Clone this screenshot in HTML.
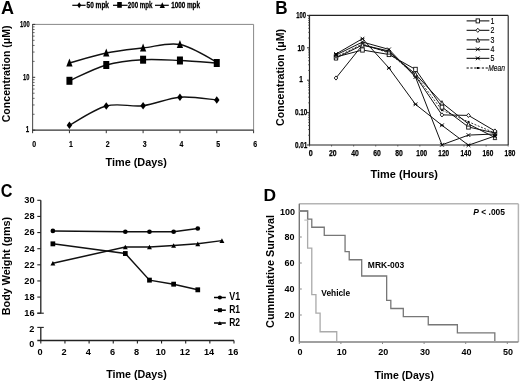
<!DOCTYPE html>
<html><head><meta charset="utf-8"><style>
html,body{margin:0;padding:0;background:#fff;}
body{width:520px;height:382px;overflow:hidden;}
svg{display:block;font-family:"Liberation Sans", sans-serif;will-change:transform;}
</style></head><body>
<svg width="520" height="382" viewBox="0 0 520 382">
<rect width="520" height="382" fill="#fff"/>
<text x="1.0" y="13.8" font-size="18" font-weight="bold" fill="#000">A</text>
<line x1="32.6" y1="24.4" x2="253.6" y2="24.4" stroke="#888" stroke-width="1"/>
<line x1="253.6" y1="24.4" x2="253.6" y2="130.2" stroke="#888" stroke-width="1"/>
<line x1="32.6" y1="23.9" x2="32.6" y2="130.2" stroke="#555" stroke-width="1.1"/>
<line x1="32.1" y1="130.2" x2="253.6" y2="130.2" stroke="#333" stroke-width="1.3"/>
<line x1="32.6" y1="114.27551322937539" x2="34.6" y2="114.27551322937539" stroke="#444" stroke-width="0.8"/>
<line x1="32.6" y1="104.96028562532985" x2="34.6" y2="104.96028562532985" stroke="#444" stroke-width="0.8"/>
<line x1="32.6" y1="98.35102645875078" x2="34.6" y2="98.35102645875078" stroke="#444" stroke-width="0.8"/>
<line x1="32.6" y1="93.2244867706246" x2="34.6" y2="93.2244867706246" stroke="#444" stroke-width="0.8"/>
<line x1="32.6" y1="89.03579885470525" x2="34.6" y2="89.03579885470525" stroke="#444" stroke-width="0.8"/>
<line x1="32.6" y1="85.49431368324582" x2="34.6" y2="85.49431368324582" stroke="#444" stroke-width="0.8"/>
<line x1="32.6" y1="82.42653968812618" x2="34.6" y2="82.42653968812618" stroke="#444" stroke-width="0.8"/>
<line x1="32.6" y1="79.7205712506597" x2="34.6" y2="79.7205712506597" stroke="#444" stroke-width="0.8"/>
<line x1="32.6" y1="61.375513229375386" x2="34.6" y2="61.375513229375386" stroke="#444" stroke-width="0.8"/>
<line x1="32.6" y1="52.06028562532987" x2="34.6" y2="52.06028562532987" stroke="#444" stroke-width="0.8"/>
<line x1="32.6" y1="45.45102645875079" x2="34.6" y2="45.45102645875079" stroke="#444" stroke-width="0.8"/>
<line x1="32.6" y1="40.32448677062462" x2="34.6" y2="40.32448677062462" stroke="#444" stroke-width="0.8"/>
<line x1="32.6" y1="36.13579885470526" x2="34.6" y2="36.13579885470526" stroke="#444" stroke-width="0.8"/>
<line x1="32.6" y1="32.594313683245815" x2="34.6" y2="32.594313683245815" stroke="#444" stroke-width="0.8"/>
<line x1="32.6" y1="29.526539688126192" x2="34.6" y2="29.526539688126192" stroke="#444" stroke-width="0.8"/>
<line x1="32.6" y1="26.820571250659725" x2="34.6" y2="26.820571250659725" stroke="#444" stroke-width="0.8"/>
<line x1="32.6" y1="130.2" x2="35.2" y2="130.2" stroke="#333" stroke-width="1"/>
<line x1="32.6" y1="77.3" x2="35.2" y2="77.3" stroke="#333" stroke-width="1"/>
<line x1="32.6" y1="24.400000000000006" x2="35.2" y2="24.400000000000006" stroke="#333" stroke-width="1"/>
<text x="29.6" y="26.9" font-size="9.8" font-weight="bold" text-anchor="end" textLength="9.6" lengthAdjust="spacingAndGlyphs" fill="#000" stroke="#000" stroke-width="0.25">100</text>
<text x="29.4" y="79.8" font-size="9.8" font-weight="bold" text-anchor="end" textLength="6.4" lengthAdjust="spacingAndGlyphs" fill="#000" stroke="#000" stroke-width="0.25">10</text>
<text x="29.2" y="132.0" font-size="9.8" font-weight="bold" text-anchor="end" textLength="3.4" lengthAdjust="spacingAndGlyphs" fill="#000" stroke="#000" stroke-width="0.25">1</text>
<line x1="32.6" y1="130.2" x2="32.6" y2="133.2" stroke="#333" stroke-width="1"/>
<text x="34.1" y="147.0" font-size="9" font-weight="bold" text-anchor="middle" textLength="3.9" lengthAdjust="spacingAndGlyphs" fill="#000" stroke="#000" stroke-width="0.15">0</text>
<line x1="69.43333333333334" y1="130.2" x2="69.43333333333334" y2="133.2" stroke="#333" stroke-width="1"/>
<text x="70.93" y="147.0" font-size="9" font-weight="bold" text-anchor="middle" textLength="3.9" lengthAdjust="spacingAndGlyphs" fill="#000" stroke="#000" stroke-width="0.15">1</text>
<line x1="106.26666666666668" y1="130.2" x2="106.26666666666668" y2="133.2" stroke="#333" stroke-width="1"/>
<text x="107.77" y="147.0" font-size="9" font-weight="bold" text-anchor="middle" textLength="3.9" lengthAdjust="spacingAndGlyphs" fill="#000" stroke="#000" stroke-width="0.15">2</text>
<line x1="143.1" y1="130.2" x2="143.1" y2="133.2" stroke="#333" stroke-width="1"/>
<text x="144.6" y="147.0" font-size="9" font-weight="bold" text-anchor="middle" textLength="3.9" lengthAdjust="spacingAndGlyphs" fill="#000" stroke="#000" stroke-width="0.15">3</text>
<line x1="179.93333333333334" y1="130.2" x2="179.93333333333334" y2="133.2" stroke="#333" stroke-width="1"/>
<text x="181.43" y="147.0" font-size="9" font-weight="bold" text-anchor="middle" textLength="3.9" lengthAdjust="spacingAndGlyphs" fill="#000" stroke="#000" stroke-width="0.15">4</text>
<line x1="216.76666666666668" y1="130.2" x2="216.76666666666668" y2="133.2" stroke="#333" stroke-width="1"/>
<text x="218.27" y="147.0" font-size="9" font-weight="bold" text-anchor="middle" textLength="3.9" lengthAdjust="spacingAndGlyphs" fill="#000" stroke="#000" stroke-width="0.15">5</text>
<line x1="253.6" y1="130.2" x2="253.6" y2="133.2" stroke="#333" stroke-width="1"/>
<text x="255.1" y="147.0" font-size="9" font-weight="bold" text-anchor="middle" textLength="3.9" lengthAdjust="spacingAndGlyphs" fill="#000" stroke="#000" stroke-width="0.15">6</text>
<text x="105.5" y="165.6" font-size="11" font-weight="bold" textLength="61.5" lengthAdjust="spacingAndGlyphs" fill="#000">Time (Days)</text>
<text transform="translate(10.0,122.3) rotate(-90)" font-size="10.6" font-weight="bold" textLength="96.9" lengthAdjust="spacingAndGlyphs">Concentration (μM)</text>
<path d="M69.43333333333334,63.0 C75.57,61.33 93.99,55.50 106.27,53.00 C118.54,50.50 130.82,49.42 143.10,48.00 C155.38,46.58 167.66,42.17 179.93,44.50 C192.21,46.83 210.63,59.08 216.77,62.00" fill="none" stroke="#111" stroke-width="1.4"/>
<path d="M69.43333333333334,80.8 C75.57,78.17 93.99,68.52 106.27,65.00 C118.54,61.48 130.82,60.45 143.10,59.70 C155.38,58.95 167.66,59.95 179.93,60.50 C192.21,61.05 210.63,62.58 216.77,63.00" fill="none" stroke="#111" stroke-width="1.4"/>
<path d="M69.43333333333334,125.3 C75.57,122.08 93.99,109.27 106.27,106.00 C118.54,102.73 130.82,107.17 143.10,105.70 C155.38,104.23 167.66,98.15 179.93,97.20 C192.21,96.25 210.63,99.53 216.77,100.00" fill="none" stroke="#111" stroke-width="1.4"/>
<path d="M69.43333333333334,121.55 L72.18333333333334,125.3 L69.43333333333334,129.05 L66.68333333333334,125.3 Z" fill="#000"/>
<path d="M106.26666666666668,102.25 L109.01666666666668,106.0 L106.26666666666668,109.75 L103.51666666666668,106.0 Z" fill="#000"/>
<path d="M143.1,101.95 L145.85,105.7 L143.1,109.45 L140.35,105.7 Z" fill="#000"/>
<path d="M179.93333333333334,93.45 L182.68333333333334,97.2 L179.93333333333334,100.95 L177.18333333333334,97.2 Z" fill="#000"/>
<path d="M216.76666666666668,96.25 L219.51666666666668,100.0 L216.76666666666668,103.75 L214.01666666666668,100.0 Z" fill="#000"/>
<rect x="66.43333333333334" y="76.8" width="6" height="8" fill="#000"/>
<rect x="103.26666666666668" y="61.0" width="6" height="8" fill="#000"/>
<rect x="140.1" y="55.7" width="6" height="8" fill="#000"/>
<rect x="176.93333333333334" y="56.5" width="6" height="8" fill="#000"/>
<rect x="213.76666666666668" y="59.0" width="6" height="8" fill="#000"/>
<path d="M69.43333333333334,58.6 L72.58333333333334,66.4 L66.28333333333333,66.4 Z" fill="#000"/>
<path d="M106.26666666666668,48.6 L109.41666666666669,56.4 L103.11666666666667,56.4 Z" fill="#000"/>
<path d="M143.1,43.6 L146.25,51.4 L139.95,51.4 Z" fill="#000"/>
<path d="M179.93333333333334,40.1 L183.08333333333334,47.9 L176.78333333333333,47.9 Z" fill="#000"/>
<line x1="72.3" y1="5.3" x2="85.6" y2="5.3" stroke="#000" stroke-width="1.2"/>
<path d="M79.2,2.3 L81.2,5.3 L79.2,8.3 L77.2,5.3 Z" fill="#000"/>
<text x="86.5" y="8.1" font-size="8.8" font-weight="bold" textLength="22.5" lengthAdjust="spacingAndGlyphs" fill="#000" stroke="#000" stroke-width="0.3">50 mpk</text>
<line x1="113" y1="5.3" x2="127.6" y2="5.3" stroke="#000" stroke-width="1.2"/>
<rect x="117.2" y="1.9999999999999996" width="4.6" height="5.8" fill="#000"/>
<text x="127.8" y="8.1" font-size="8.8" font-weight="bold" textLength="24.7" lengthAdjust="spacingAndGlyphs" fill="#000" stroke="#000" stroke-width="0.3">200 mpk</text>
<line x1="155" y1="5.3" x2="168.8" y2="5.3" stroke="#000" stroke-width="1.2"/>
<path d="M162.3,2.1999999999999997 L164.9,8.0 L159.70000000000002,8.0 Z" fill="#000"/>
<text x="171.2" y="8.1" font-size="8.8" font-weight="bold" textLength="28.8" lengthAdjust="spacingAndGlyphs" fill="#000" stroke="#000" stroke-width="0.3">1000 mpk</text>
<text transform="translate(275.2,13.8) scale(0.95,1)" font-size="18" font-weight="bold">B</text>
<line x1="309.5" y1="15.4" x2="508.2" y2="15.4" stroke="#222" stroke-width="1.1"/>
<line x1="508.2" y1="15.4" x2="508.2" y2="145.0" stroke="#222" stroke-width="1.1"/>
<line x1="309.5" y1="14.9" x2="309.5" y2="145.5" stroke="#222" stroke-width="1.2"/>
<line x1="309.0" y1="145.0" x2="508.2" y2="145.0" stroke="#222" stroke-width="1.2"/>
<line x1="308.0" y1="135.24662814048702" x2="309.5" y2="135.24662814048702" stroke="#444" stroke-width="0.7"/>
<line x1="308.0" y1="129.54127134708293" x2="309.5" y2="129.54127134708293" stroke="#444" stroke-width="0.7"/>
<line x1="308.0" y1="125.49325628097402" x2="309.5" y2="125.49325628097402" stroke="#444" stroke-width="0.7"/>
<line x1="308.0" y1="122.35337185951299" x2="309.5" y2="122.35337185951299" stroke="#444" stroke-width="0.7"/>
<line x1="308.0" y1="119.78789948756994" x2="309.5" y2="119.78789948756994" stroke="#444" stroke-width="0.7"/>
<line x1="308.0" y1="117.61882350353808" x2="309.5" y2="117.61882350353808" stroke="#444" stroke-width="0.7"/>
<line x1="308.0" y1="115.73988442146103" x2="309.5" y2="115.73988442146103" stroke="#444" stroke-width="0.7"/>
<line x1="308.0" y1="114.08254269416588" x2="309.5" y2="114.08254269416588" stroke="#444" stroke-width="0.7"/>
<line x1="308.0" y1="102.84662814048701" x2="309.5" y2="102.84662814048701" stroke="#444" stroke-width="0.7"/>
<line x1="308.0" y1="97.14127134708295" x2="309.5" y2="97.14127134708295" stroke="#444" stroke-width="0.7"/>
<line x1="308.0" y1="93.09325628097402" x2="309.5" y2="93.09325628097402" stroke="#444" stroke-width="0.7"/>
<line x1="308.0" y1="89.953371859513" x2="309.5" y2="89.953371859513" stroke="#444" stroke-width="0.7"/>
<line x1="308.0" y1="87.38789948756994" x2="309.5" y2="87.38789948756994" stroke="#444" stroke-width="0.7"/>
<line x1="308.0" y1="85.21882350353808" x2="309.5" y2="85.21882350353808" stroke="#444" stroke-width="0.7"/>
<line x1="308.0" y1="83.33988442146102" x2="309.5" y2="83.33988442146102" stroke="#444" stroke-width="0.7"/>
<line x1="308.0" y1="81.68254269416587" x2="309.5" y2="81.68254269416587" stroke="#444" stroke-width="0.7"/>
<line x1="308.0" y1="70.44662814048701" x2="309.5" y2="70.44662814048701" stroke="#444" stroke-width="0.7"/>
<line x1="308.0" y1="64.74127134708293" x2="309.5" y2="64.74127134708293" stroke="#444" stroke-width="0.7"/>
<line x1="308.0" y1="60.69325628097401" x2="309.5" y2="60.69325628097401" stroke="#444" stroke-width="0.7"/>
<line x1="308.0" y1="57.55337185951299" x2="309.5" y2="57.55337185951299" stroke="#444" stroke-width="0.7"/>
<line x1="308.0" y1="54.98789948756995" x2="309.5" y2="54.98789948756995" stroke="#444" stroke-width="0.7"/>
<line x1="308.0" y1="52.818823503538084" x2="309.5" y2="52.818823503538084" stroke="#444" stroke-width="0.7"/>
<line x1="308.0" y1="50.93988442146103" x2="309.5" y2="50.93988442146103" stroke="#444" stroke-width="0.7"/>
<line x1="308.0" y1="49.28254269416588" x2="309.5" y2="49.28254269416588" stroke="#444" stroke-width="0.7"/>
<line x1="308.0" y1="38.046628140487016" x2="309.5" y2="38.046628140487016" stroke="#444" stroke-width="0.7"/>
<line x1="308.0" y1="32.34127134708294" x2="309.5" y2="32.34127134708294" stroke="#444" stroke-width="0.7"/>
<line x1="308.0" y1="28.29325628097402" x2="309.5" y2="28.29325628097402" stroke="#444" stroke-width="0.7"/>
<line x1="308.0" y1="25.153371859513" x2="309.5" y2="25.153371859513" stroke="#444" stroke-width="0.7"/>
<line x1="308.0" y1="22.587899487569942" x2="309.5" y2="22.587899487569942" stroke="#444" stroke-width="0.7"/>
<line x1="308.0" y1="20.41882350353808" x2="309.5" y2="20.41882350353808" stroke="#444" stroke-width="0.7"/>
<line x1="308.0" y1="18.539884421461025" x2="309.5" y2="18.539884421461025" stroke="#444" stroke-width="0.7"/>
<line x1="308.0" y1="16.882542694165892" x2="309.5" y2="16.882542694165892" stroke="#444" stroke-width="0.7"/>
<line x1="307.0" y1="145.0" x2="309.5" y2="145.0" stroke="#333" stroke-width="1"/>
<line x1="307.0" y1="112.6" x2="309.5" y2="112.6" stroke="#333" stroke-width="1"/>
<line x1="307.0" y1="80.2" x2="309.5" y2="80.2" stroke="#333" stroke-width="1"/>
<line x1="307.0" y1="47.80000000000001" x2="309.5" y2="47.80000000000001" stroke="#333" stroke-width="1"/>
<line x1="307.0" y1="15.400000000000006" x2="309.5" y2="15.400000000000006" stroke="#333" stroke-width="1"/>
<text x="301.1" y="147.8" font-size="8.8" font-weight="bold" text-anchor="middle" textLength="12.4" lengthAdjust="spacingAndGlyphs" fill="#000" stroke="#000" stroke-width="0.25">0.01</text>
<text x="301.1" y="115.4" font-size="8.8" font-weight="bold" text-anchor="middle" textLength="12.4" lengthAdjust="spacingAndGlyphs" fill="#000" stroke="#000" stroke-width="0.25">0.10</text>
<text x="301.1" y="82.0" font-size="8.8" font-weight="bold" text-anchor="middle" textLength="3.6" lengthAdjust="spacingAndGlyphs" fill="#000" stroke="#000" stroke-width="0.25">1</text>
<text x="301.1" y="50.6" font-size="8.8" font-weight="bold" text-anchor="middle" textLength="7.4" lengthAdjust="spacingAndGlyphs" fill="#000" stroke="#000" stroke-width="0.25">10</text>
<text x="301.1" y="18.2" font-size="8.8" font-weight="bold" text-anchor="middle" textLength="9.8" lengthAdjust="spacingAndGlyphs" fill="#000" stroke="#000" stroke-width="0.25">100</text>
<line x1="309.5" y1="145.0" x2="309.5" y2="146.5" stroke="#444" stroke-width="0.8"/>
<text x="310.8" y="156.4" font-size="8.8" font-weight="bold" text-anchor="middle" textLength="4.0" lengthAdjust="spacingAndGlyphs" fill="#000" stroke="#000" stroke-width="0.25">0</text>
<line x1="331.5777777777778" y1="145.0" x2="331.5777777777778" y2="146.5" stroke="#444" stroke-width="0.8"/>
<text x="332.88" y="156.4" font-size="8.8" font-weight="bold" text-anchor="middle" textLength="7.6" lengthAdjust="spacingAndGlyphs" fill="#000" stroke="#000" stroke-width="0.25">20</text>
<line x1="353.65555555555557" y1="145.0" x2="353.65555555555557" y2="146.5" stroke="#444" stroke-width="0.8"/>
<text x="354.96" y="156.4" font-size="8.8" font-weight="bold" text-anchor="middle" textLength="7.6" lengthAdjust="spacingAndGlyphs" fill="#000" stroke="#000" stroke-width="0.25">40</text>
<line x1="375.73333333333335" y1="145.0" x2="375.73333333333335" y2="146.5" stroke="#444" stroke-width="0.8"/>
<text x="377.03" y="156.4" font-size="8.8" font-weight="bold" text-anchor="middle" textLength="7.6" lengthAdjust="spacingAndGlyphs" fill="#000" stroke="#000" stroke-width="0.25">60</text>
<line x1="397.81111111111113" y1="145.0" x2="397.81111111111113" y2="146.5" stroke="#444" stroke-width="0.8"/>
<text x="399.11" y="156.4" font-size="8.8" font-weight="bold" text-anchor="middle" textLength="7.6" lengthAdjust="spacingAndGlyphs" fill="#000" stroke="#000" stroke-width="0.25">80</text>
<line x1="419.8888888888889" y1="145.0" x2="419.8888888888889" y2="146.5" stroke="#444" stroke-width="0.8"/>
<text x="421.69" y="156.4" font-size="8.8" font-weight="bold" text-anchor="middle" textLength="10.8" lengthAdjust="spacingAndGlyphs" fill="#000" stroke="#000" stroke-width="0.25">100</text>
<line x1="441.9666666666667" y1="145.0" x2="441.9666666666667" y2="146.5" stroke="#444" stroke-width="0.8"/>
<text x="443.77" y="156.4" font-size="8.8" font-weight="bold" text-anchor="middle" textLength="10.8" lengthAdjust="spacingAndGlyphs" fill="#000" stroke="#000" stroke-width="0.25">120</text>
<line x1="464.0444444444445" y1="145.0" x2="464.0444444444445" y2="146.5" stroke="#444" stroke-width="0.8"/>
<text x="465.84" y="156.4" font-size="8.8" font-weight="bold" text-anchor="middle" textLength="10.8" lengthAdjust="spacingAndGlyphs" fill="#000" stroke="#000" stroke-width="0.25">140</text>
<line x1="486.12222222222226" y1="145.0" x2="486.12222222222226" y2="146.5" stroke="#444" stroke-width="0.8"/>
<text x="487.92" y="156.4" font-size="8.8" font-weight="bold" text-anchor="middle" textLength="10.8" lengthAdjust="spacingAndGlyphs" fill="#000" stroke="#000" stroke-width="0.25">160</text>
<line x1="508.20000000000005" y1="145.0" x2="508.20000000000005" y2="146.5" stroke="#444" stroke-width="0.8"/>
<text x="510.0" y="156.4" font-size="8.8" font-weight="bold" text-anchor="middle" textLength="10.8" lengthAdjust="spacingAndGlyphs" fill="#000" stroke="#000" stroke-width="0.25">180</text>
<text x="370.6" y="177.8" font-size="11" font-weight="bold" textLength="67.3" lengthAdjust="spacingAndGlyphs" fill="#000">Time (Hours)</text>
<text transform="translate(284.1,125.9) rotate(-90)" font-size="10.6" font-weight="bold" textLength="97" lengthAdjust="spacingAndGlyphs">Concentration (μM)</text>
<path d="M335.99,57.00 L362.49,44.00 L388.98,53.00 L415.47,75.00 L441.97,110.20 L468.46,121.80 L494.95,133.00" fill="none" stroke="#222" stroke-width="0.9" stroke-dasharray="2,1.5"/>
<path d="M335.99,57.00 L362.49,50.00 L388.98,54.50 L415.47,69.40 L441.97,107.10 L468.46,127.00 L494.95,133.00" fill="none" stroke="#111" stroke-width="1"/>
<path d="M335.99,78.00 L362.49,45.00 L388.98,51.00 L415.47,76.00 L441.97,114.90 L468.46,115.40 L494.95,131.00" fill="none" stroke="#111" stroke-width="1"/>
<path d="M335.99,58.00 L362.49,45.00 L388.98,52.00 L415.47,74.00 L441.97,102.80 L468.46,124.00 L494.95,137.50" fill="none" stroke="#111" stroke-width="1"/>
<path d="M335.99,55.00 L362.49,42.00 L388.98,49.40 L415.47,77.00 L441.97,144.80 L468.46,135.10 L494.95,134.00" fill="none" stroke="#111" stroke-width="1"/>
<path d="M335.99,54.00 L362.49,38.70 L388.98,68.00 L415.47,104.30 L441.97,125.30 L468.46,145.20 L494.95,136.00" fill="none" stroke="#111" stroke-width="1"/>
<rect x="335.09333333333336" y="56.1" width="1.8" height="1.8" fill="#000"/>
<rect x="361.5866666666667" y="43.1" width="1.8" height="1.8" fill="#000"/>
<rect x="388.08000000000004" y="52.1" width="1.8" height="1.8" fill="#000"/>
<rect x="414.5733333333334" y="74.1" width="1.8" height="1.8" fill="#000"/>
<rect x="441.0666666666667" y="109.3" width="1.8" height="1.8" fill="#000"/>
<rect x="467.56000000000006" y="120.89999999999999" width="1.8" height="1.8" fill="#000"/>
<rect x="494.0533333333334" y="132.1" width="1.8" height="1.8" fill="#000"/>
<rect x="334.1933333333333" y="54.9" width="3.6" height="4.2" fill="#fff" stroke="#111" stroke-width="0.9"/>
<rect x="360.68666666666667" y="47.9" width="3.6" height="4.2" fill="#fff" stroke="#111" stroke-width="0.9"/>
<rect x="387.18" y="52.4" width="3.6" height="4.2" fill="#fff" stroke="#111" stroke-width="0.9"/>
<rect x="413.67333333333335" y="67.30000000000001" width="3.6" height="4.2" fill="#fff" stroke="#111" stroke-width="0.9"/>
<rect x="440.1666666666667" y="105.0" width="3.6" height="4.2" fill="#fff" stroke="#111" stroke-width="0.9"/>
<rect x="466.66" y="124.9" width="3.6" height="4.2" fill="#fff" stroke="#111" stroke-width="0.9"/>
<rect x="493.15333333333336" y="130.9" width="3.6" height="4.2" fill="#fff" stroke="#111" stroke-width="0.9"/>
<path d="M335.99333333333334,75.9 L337.79333333333335,78 L335.99333333333334,80.1 L334.1933333333333,78 Z" fill="#fff" stroke="#111" stroke-width="0.9"/>
<path d="M362.4866666666667,42.9 L364.2866666666667,45 L362.4866666666667,47.1 L360.68666666666667,45 Z" fill="#fff" stroke="#111" stroke-width="0.9"/>
<path d="M388.98,48.9 L390.78000000000003,51 L388.98,53.1 L387.18,51 Z" fill="#fff" stroke="#111" stroke-width="0.9"/>
<path d="M415.47333333333336,73.9 L417.27333333333337,76 L415.47333333333336,78.1 L413.67333333333335,76 Z" fill="#fff" stroke="#111" stroke-width="0.9"/>
<path d="M441.9666666666667,112.80000000000001 L443.7666666666667,114.9 L441.9666666666667,117.0 L440.1666666666667,114.9 Z" fill="#fff" stroke="#111" stroke-width="0.9"/>
<path d="M468.46000000000004,113.30000000000001 L470.26000000000005,115.4 L468.46000000000004,117.5 L466.66,115.4 Z" fill="#fff" stroke="#111" stroke-width="0.9"/>
<path d="M494.9533333333334,128.9 L496.7533333333334,131 L494.9533333333334,133.1 L493.15333333333336,131 Z" fill="#fff" stroke="#111" stroke-width="0.9"/>
<path d="M335.99333333333334,55.9 L337.79333333333335,60.1 L334.1933333333333,60.1 Z" fill="#fff" stroke="#111" stroke-width="0.9"/>
<path d="M362.4866666666667,42.9 L364.2866666666667,47.1 L360.68666666666667,47.1 Z" fill="#fff" stroke="#111" stroke-width="0.9"/>
<path d="M388.98,49.9 L390.78000000000003,54.1 L387.18,54.1 Z" fill="#fff" stroke="#111" stroke-width="0.9"/>
<path d="M415.47333333333336,71.9 L417.27333333333337,76.1 L413.67333333333335,76.1 Z" fill="#fff" stroke="#111" stroke-width="0.9"/>
<path d="M441.9666666666667,100.7 L443.7666666666667,104.89999999999999 L440.1666666666667,104.89999999999999 Z" fill="#fff" stroke="#111" stroke-width="0.9"/>
<path d="M468.46000000000004,121.9 L470.26000000000005,126.1 L466.66,126.1 Z" fill="#fff" stroke="#111" stroke-width="0.9"/>
<path d="M494.9533333333334,135.4 L496.7533333333334,139.6 L493.15333333333336,139.6 Z" fill="#fff" stroke="#111" stroke-width="0.9"/>
<path d="M334.09333333333336,53.1 L337.8933333333333,56.9 M334.09333333333336,56.9 L337.8933333333333,53.1" stroke="#000" stroke-width="0.9" fill="none"/>
<path d="M360.5866666666667,40.1 L364.38666666666666,43.9 M360.5866666666667,43.9 L364.38666666666666,40.1" stroke="#000" stroke-width="0.9" fill="none"/>
<path d="M387.08000000000004,47.5 L390.88,51.3 M387.08000000000004,51.3 L390.88,47.5" stroke="#000" stroke-width="0.9" fill="none"/>
<path d="M413.5733333333334,75.1 L417.37333333333333,78.9 M413.5733333333334,78.9 L417.37333333333333,75.1" stroke="#000" stroke-width="0.9" fill="none"/>
<path d="M440.0666666666667,142.9 L443.8666666666667,146.70000000000002 M440.0666666666667,146.70000000000002 L443.8666666666667,142.9" stroke="#000" stroke-width="0.9" fill="none"/>
<path d="M466.56000000000006,133.2 L470.36,137.0 M466.56000000000006,137.0 L470.36,133.2" stroke="#000" stroke-width="0.9" fill="none"/>
<path d="M493.0533333333334,132.1 L496.85333333333335,135.9 M493.0533333333334,135.9 L496.85333333333335,132.1" stroke="#000" stroke-width="0.9" fill="none"/>
<path d="M334.09333333333336,52.1 L337.8933333333333,55.9 M334.09333333333336,55.9 L337.8933333333333,52.1 M334.09333333333336,54 L337.8933333333333,54" stroke="#000" stroke-width="0.9" fill="none"/>
<path d="M360.5866666666667,36.800000000000004 L364.38666666666666,40.6 M360.5866666666667,40.6 L364.38666666666666,36.800000000000004 M360.5866666666667,38.7 L364.38666666666666,38.7" stroke="#000" stroke-width="0.9" fill="none"/>
<path d="M387.08000000000004,66.1 L390.88,69.9 M387.08000000000004,69.9 L390.88,66.1 M387.08000000000004,68 L390.88,68" stroke="#000" stroke-width="0.9" fill="none"/>
<path d="M413.5733333333334,102.39999999999999 L417.37333333333333,106.2 M413.5733333333334,106.2 L417.37333333333333,102.39999999999999 M413.5733333333334,104.3 L417.37333333333333,104.3" stroke="#000" stroke-width="0.9" fill="none"/>
<path d="M440.0666666666667,123.39999999999999 L443.8666666666667,127.2 M440.0666666666667,127.2 L443.8666666666667,123.39999999999999 M440.0666666666667,125.3 L443.8666666666667,125.3" stroke="#000" stroke-width="0.9" fill="none"/>
<path d="M466.56000000000006,143.29999999999998 L470.36,147.1 M466.56000000000006,147.1 L470.36,143.29999999999998 M466.56000000000006,145.2 L470.36,145.2" stroke="#000" stroke-width="0.9" fill="none"/>
<path d="M493.0533333333334,134.1 L496.85333333333335,137.9 M493.0533333333334,137.9 L496.85333333333335,134.1 M493.0533333333334,136 L496.85333333333335,136" stroke="#000" stroke-width="0.9" fill="none"/>
<line x1="466.6" y1="20.9" x2="489.4" y2="20.9" stroke="#000" stroke-width="1"/>
<text x="490.4" y="23.6" font-size="8.6" font-weight="normal" textLength="3.9" lengthAdjust="spacingAndGlyphs" fill="#000" stroke="#000" stroke-width="0.15">1</text>
<line x1="466.6" y1="30.3" x2="489.4" y2="30.3" stroke="#000" stroke-width="1"/>
<text x="490.4" y="33.0" font-size="8.6" font-weight="normal" textLength="3.9" lengthAdjust="spacingAndGlyphs" fill="#000" stroke="#000" stroke-width="0.15">2</text>
<line x1="466.6" y1="39.9" x2="489.4" y2="39.9" stroke="#000" stroke-width="1"/>
<text x="490.4" y="42.6" font-size="8.6" font-weight="normal" textLength="3.9" lengthAdjust="spacingAndGlyphs" fill="#000" stroke="#000" stroke-width="0.15">3</text>
<line x1="466.6" y1="49.3" x2="489.4" y2="49.3" stroke="#000" stroke-width="1"/>
<text x="490.4" y="52.0" font-size="8.6" font-weight="normal" textLength="3.9" lengthAdjust="spacingAndGlyphs" fill="#000" stroke="#000" stroke-width="0.15">4</text>
<line x1="466.6" y1="58.3" x2="489.4" y2="58.3" stroke="#000" stroke-width="1"/>
<text x="490.4" y="61.0" font-size="8.6" font-weight="normal" textLength="3.9" lengthAdjust="spacingAndGlyphs" fill="#000" stroke="#000" stroke-width="0.15">5</text>
<rect x="476.1" y="18.9" width="3.4" height="4.0" fill="#fff" stroke="#111" stroke-width="0.9"/>
<path d="M477.8,28.2 L479.6,30.3 L477.8,32.4 L476.0,30.3 Z" fill="#fff" stroke="#111" stroke-width="0.9"/>
<path d="M477.8,37.8 L479.6,42.0 L476.0,42.0 Z" fill="#fff" stroke="#111" stroke-width="0.9"/>
<path d="M475.90000000000003,47.4 L479.7,51.199999999999996 M475.90000000000003,51.199999999999996 L479.7,47.4" stroke="#000" stroke-width="0.9" fill="none"/>
<path d="M475.90000000000003,56.4 L479.7,60.199999999999996 M475.90000000000003,60.199999999999996 L479.7,56.4 M475.90000000000003,58.3 L479.7,58.3" stroke="#000" stroke-width="0.9" fill="none"/>
<line x1="466.6" y1="68.0" x2="488.4" y2="68.0" stroke="#000" stroke-width="1.1" stroke-dasharray="2.2,1.6"/>
<rect x="476.8" y="67.0" width="2" height="2" fill="#000"/>
<text x="488.2" y="70.6" font-size="8.6" font-weight="normal" textLength="16.7" lengthAdjust="spacingAndGlyphs" font-style="italic" fill="#000" stroke="#000" stroke-width="0.15">Mean</text>
<text transform="translate(0.7,197.0) scale(0.89,1)" font-size="18.2" font-weight="bold">C</text>
<line x1="40.8" y1="200.3" x2="40.8" y2="313.2" stroke="#222" stroke-width="1.3"/>
<line x1="40.8" y1="327.4" x2="40.8" y2="341.1" stroke="#222" stroke-width="1.3"/>
<line x1="37.3" y1="340.5" x2="234.0" y2="340.5" stroke="#222" stroke-width="1.3"/>
<line x1="37.3" y1="313.2" x2="40.8" y2="313.2" stroke="#222" stroke-width="1.1"/>
<text x="34.6" y="316.1" font-size="9.2" font-weight="bold" text-anchor="end" fill="#000">16</text>
<line x1="37.3" y1="297.07142857142856" x2="40.8" y2="297.07142857142856" stroke="#222" stroke-width="1.1"/>
<text x="34.6" y="299.97" font-size="9.2" font-weight="bold" text-anchor="end" fill="#000">18</text>
<line x1="37.3" y1="280.9428571428572" x2="40.8" y2="280.9428571428572" stroke="#222" stroke-width="1.1"/>
<text x="34.6" y="283.84" font-size="9.2" font-weight="bold" text-anchor="end" fill="#000">20</text>
<line x1="37.3" y1="264.8142857142857" x2="40.8" y2="264.8142857142857" stroke="#222" stroke-width="1.1"/>
<text x="34.6" y="267.71" font-size="9.2" font-weight="bold" text-anchor="end" fill="#000">22</text>
<line x1="37.3" y1="248.68571428571428" x2="40.8" y2="248.68571428571428" stroke="#222" stroke-width="1.1"/>
<text x="34.6" y="251.59" font-size="9.2" font-weight="bold" text-anchor="end" fill="#000">24</text>
<line x1="37.3" y1="232.55714285714288" x2="40.8" y2="232.55714285714288" stroke="#222" stroke-width="1.1"/>
<text x="34.6" y="235.46" font-size="9.2" font-weight="bold" text-anchor="end" fill="#000">26</text>
<line x1="37.3" y1="216.42857142857144" x2="40.8" y2="216.42857142857144" stroke="#222" stroke-width="1.1"/>
<text x="34.6" y="219.33" font-size="9.2" font-weight="bold" text-anchor="end" fill="#000">28</text>
<line x1="37.3" y1="200.3" x2="40.8" y2="200.3" stroke="#222" stroke-width="1.1"/>
<text x="34.6" y="203.2" font-size="9.2" font-weight="bold" text-anchor="end" fill="#000">30</text>
<line x1="37.3" y1="313.2" x2="43.8" y2="313.2" stroke="#222" stroke-width="1.1"/>
<line x1="37.3" y1="327.4" x2="43.8" y2="327.4" stroke="#222" stroke-width="1.1"/>
<text x="34.4" y="332.4" font-size="9.2" font-weight="bold" text-anchor="end" fill="#000">2</text>
<text x="34.4" y="346.6" font-size="9.2" font-weight="bold" text-anchor="end" fill="#000">0</text>
<line x1="40.8" y1="340.5" x2="40.8" y2="343.5" stroke="#222" stroke-width="1.1"/>
<text x="40.0" y="355.4" font-size="9.2" font-weight="bold" text-anchor="middle" fill="#000">0</text>
<line x1="64.94999999999999" y1="340.5" x2="64.94999999999999" y2="343.5" stroke="#222" stroke-width="1.1"/>
<text x="64.15" y="355.4" font-size="9.2" font-weight="bold" text-anchor="middle" fill="#000">2</text>
<line x1="89.1" y1="340.5" x2="89.1" y2="343.5" stroke="#222" stroke-width="1.1"/>
<text x="88.3" y="355.4" font-size="9.2" font-weight="bold" text-anchor="middle" fill="#000">4</text>
<line x1="113.24999999999999" y1="340.5" x2="113.24999999999999" y2="343.5" stroke="#222" stroke-width="1.1"/>
<text x="112.45" y="355.4" font-size="9.2" font-weight="bold" text-anchor="middle" fill="#000">6</text>
<line x1="137.39999999999998" y1="340.5" x2="137.39999999999998" y2="343.5" stroke="#222" stroke-width="1.1"/>
<text x="136.6" y="355.4" font-size="9.2" font-weight="bold" text-anchor="middle" fill="#000">8</text>
<line x1="161.55" y1="340.5" x2="161.55" y2="343.5" stroke="#222" stroke-width="1.1"/>
<text x="160.75" y="355.4" font-size="9.2" font-weight="bold" text-anchor="middle" fill="#000">10</text>
<line x1="185.7" y1="340.5" x2="185.7" y2="343.5" stroke="#222" stroke-width="1.1"/>
<text x="184.9" y="355.4" font-size="9.2" font-weight="bold" text-anchor="middle" fill="#000">12</text>
<line x1="209.84999999999997" y1="340.5" x2="209.84999999999997" y2="343.5" stroke="#222" stroke-width="1.1"/>
<text x="209.05" y="355.4" font-size="9.2" font-weight="bold" text-anchor="middle" fill="#000">14</text>
<line x1="234.0" y1="340.5" x2="234.0" y2="343.5" stroke="#222" stroke-width="1.1"/>
<text x="233.2" y="355.4" font-size="9.2" font-weight="bold" text-anchor="middle" fill="#000">16</text>
<text x="106.2" y="377.8" font-size="10.7" font-weight="bold" textLength="60.6" lengthAdjust="spacingAndGlyphs" fill="#000">Time (Days)</text>
<text transform="translate(10.0,315.3) rotate(-90)" font-size="10.8" font-weight="bold" textLength="98.5" lengthAdjust="spacingAndGlyphs">Body Weight (gms)</text>
<path d="M52.88,230.94 L125.32,231.75 L149.47,231.75 L173.62,231.75 L197.77,228.53" fill="none" stroke="#111" stroke-width="1.5"/>
<path d="M52.88,243.85 L125.32,253.52 L149.47,280.14 L173.62,284.17 L197.77,289.81" fill="none" stroke="#111" stroke-width="1.5"/>
<path d="M52.88,263.20 L125.32,247.07 L149.47,247.07 L173.62,245.46 L197.77,243.85 L221.93,240.62" fill="none" stroke="#111" stroke-width="1.5"/>
<circle cx="52.875" cy="230.94428571428574" r="2.35" fill="#000"/>
<circle cx="125.32499999999999" cy="231.75071428571428" r="2.35" fill="#000"/>
<circle cx="149.475" cy="231.75071428571428" r="2.35" fill="#000"/>
<circle cx="173.625" cy="231.75071428571428" r="2.35" fill="#000"/>
<circle cx="197.77499999999998" cy="228.525" r="2.35" fill="#000"/>
<rect x="50.525" y="241.39714285714285" width="4.7" height="4.9" fill="#000"/>
<rect x="122.975" y="251.07428571428574" width="4.7" height="4.9" fill="#000"/>
<rect x="147.125" y="277.68642857142856" width="4.7" height="4.9" fill="#000"/>
<rect x="171.275" y="281.7185714285714" width="4.7" height="4.9" fill="#000"/>
<rect x="195.42499999999998" y="287.36357142857145" width="4.7" height="4.9" fill="#000"/>
<path d="M52.875,260.90142857142854 L55.325,265.50142857142856 L50.425,265.50142857142856 Z" fill="#000"/>
<path d="M125.32499999999999,244.77285714285713 L127.77499999999999,249.37285714285716 L122.87499999999999,249.37285714285716 Z" fill="#000"/>
<path d="M149.475,244.77285714285713 L151.92499999999998,249.37285714285716 L147.025,249.37285714285716 Z" fill="#000"/>
<path d="M173.625,243.16 L176.075,247.76000000000002 L171.175,247.76000000000002 Z" fill="#000"/>
<path d="M197.77499999999998,241.54714285714283 L200.22499999999997,246.14714285714285 L195.325,246.14714285714285 Z" fill="#000"/>
<path d="M221.925,238.32142857142856 L224.375,242.92142857142858 L219.47500000000002,242.92142857142858 Z" fill="#000"/>
<line x1="214" y1="297.5" x2="225.8" y2="297.5" stroke="#000" stroke-width="1.5"/>
<circle cx="219.9" cy="297.5" r="2.1" fill="#000"/>
<text x="229.2" y="300.4" font-size="10.4" font-weight="bold" textLength="10.9" lengthAdjust="spacingAndGlyphs" fill="#000">V1</text>
<line x1="214" y1="310.2" x2="225.8" y2="310.2" stroke="#000" stroke-width="1.5"/>
<rect x="217.9" y="308.2" width="4" height="4" fill="#000"/>
<text x="229.2" y="313.1" font-size="10.4" font-weight="bold" textLength="10.9" lengthAdjust="spacingAndGlyphs" fill="#000">R1</text>
<line x1="214" y1="323.0" x2="225.8" y2="323.0" stroke="#000" stroke-width="1.5"/>
<path d="M219.9,321.0 L221.9,325.0 L217.9,325.0 Z" fill="#000"/>
<text x="229.2" y="325.9" font-size="10.4" font-weight="bold" textLength="10.9" lengthAdjust="spacingAndGlyphs" fill="#000">R2</text>
<text x="263.6" y="200.7" font-size="17.4" font-weight="bold" fill="#000">D</text>
<line x1="299.3" y1="203.8" x2="518.4" y2="203.8" stroke="#b4b4b4" stroke-width="1.5"/>
<line x1="518.4" y1="203.8" x2="518.4" y2="342.0" stroke="#b4b4b4" stroke-width="1.5"/>
<line x1="299.3" y1="203.8" x2="299.3" y2="342.0" stroke="#777" stroke-width="1.4"/>
<line x1="299.3" y1="342.0" x2="518.4" y2="342.0" stroke="#808080" stroke-width="1.4"/>
<text x="294.6" y="342.3" font-size="9.0" font-weight="bold" text-anchor="end" fill="#000">0</text>
<line x1="299.3" y1="315.0" x2="301.8" y2="315.0" stroke="#888" stroke-width="1"/>
<text x="294.6" y="318.1" font-size="9.0" font-weight="bold" text-anchor="end" fill="#000">20</text>
<line x1="299.3" y1="289.0" x2="301.8" y2="289.0" stroke="#888" stroke-width="1"/>
<text x="294.6" y="292.1" font-size="9.0" font-weight="bold" text-anchor="end" fill="#000">40</text>
<line x1="299.3" y1="263.0" x2="301.8" y2="263.0" stroke="#888" stroke-width="1"/>
<text x="294.6" y="266.1" font-size="9.0" font-weight="bold" text-anchor="end" fill="#000">60</text>
<line x1="299.3" y1="237.0" x2="301.8" y2="237.0" stroke="#888" stroke-width="1"/>
<text x="294.6" y="240.1" font-size="9.0" font-weight="bold" text-anchor="end" fill="#000">80</text>
<line x1="299.3" y1="211.0" x2="301.8" y2="211.0" stroke="#888" stroke-width="1"/>
<text x="295.1" y="215.1" font-size="9.0" font-weight="bold" text-anchor="end" fill="#000">100</text>
<line x1="299.3" y1="342.0" x2="299.3" y2="344.0" stroke="#888" stroke-width="1"/>
<text x="300.1" y="354.5" font-size="9.0" font-weight="bold" text-anchor="middle" fill="#000">0</text>
<line x1="340.90000000000003" y1="342.0" x2="340.90000000000003" y2="344.0" stroke="#888" stroke-width="1"/>
<text x="341.7" y="354.5" font-size="9.0" font-weight="bold" text-anchor="middle" fill="#000">10</text>
<line x1="382.5" y1="342.0" x2="382.5" y2="344.0" stroke="#888" stroke-width="1"/>
<text x="383.3" y="354.5" font-size="9.0" font-weight="bold" text-anchor="middle" fill="#000">20</text>
<line x1="424.1" y1="342.0" x2="424.1" y2="344.0" stroke="#888" stroke-width="1"/>
<text x="424.9" y="354.5" font-size="9.0" font-weight="bold" text-anchor="middle" fill="#000">30</text>
<line x1="465.70000000000005" y1="342.0" x2="465.70000000000005" y2="344.0" stroke="#888" stroke-width="1"/>
<text x="466.5" y="354.5" font-size="9.0" font-weight="bold" text-anchor="middle" fill="#000">40</text>
<line x1="507.3" y1="342.0" x2="507.3" y2="344.0" stroke="#888" stroke-width="1"/>
<text x="508.1" y="354.5" font-size="9.0" font-weight="bold" text-anchor="middle" fill="#000">50</text>
<text x="374.4" y="378.6" font-size="10.6" font-weight="bold" textLength="59.6" lengthAdjust="spacingAndGlyphs" fill="#000">Time (Days)</text>
<text transform="translate(273.9,327.9) rotate(-90)" font-size="10.8" font-weight="bold" textLength="113" lengthAdjust="spacingAndGlyphs">Cummulative Survival</text>
<path d="M299.30,211.00 L307.62,211.00 L307.62,248.18 L311.78,248.18 L311.78,294.59 L315.94,294.59 L315.94,313.18 L320.10,313.18 L320.10,331.77 L336.74,331.77 L336.74,341.00" fill="none" stroke="#aaa" stroke-width="1.3"/>
<path d="M299.30,211.00 L307.62,211.00 L307.62,219.12 L311.78,219.12 L311.78,227.25 L324.26,227.25 L324.26,235.38 L345.06,235.38 L345.06,251.62 L349.22,251.62 L349.22,259.75 L361.70,259.75 L361.70,276.00 L386.66,276.00 L386.66,300.38 L390.82,300.38 L390.82,308.50 L403.30,308.50 L403.30,316.62 L428.26,316.62 L428.26,324.75 L457.38,324.75 L457.38,332.88 L494.82,332.88 L494.82,341.00" fill="none" stroke="#777" stroke-width="1.3"/>
<line x1="304.3" y1="220.1" x2="308" y2="220.1" stroke="#bbb" stroke-width="1.1"/>
<text x="321.3" y="295.6" font-size="9.0" font-weight="bold" textLength="28.8" lengthAdjust="spacingAndGlyphs" fill="#000">Vehicle</text>
<text x="367.8" y="267.6" font-size="9.2" font-weight="bold" textLength="36.4" lengthAdjust="spacingAndGlyphs" fill="#000">MRK-003</text>
<text x="473.3" y="215.2" font-size="8.6" font-weight="bold" textLength="31.7" lengthAdjust="spacingAndGlyphs"><tspan font-style="italic">P</tspan> &lt; .005</text>
</svg>
</body></html>
